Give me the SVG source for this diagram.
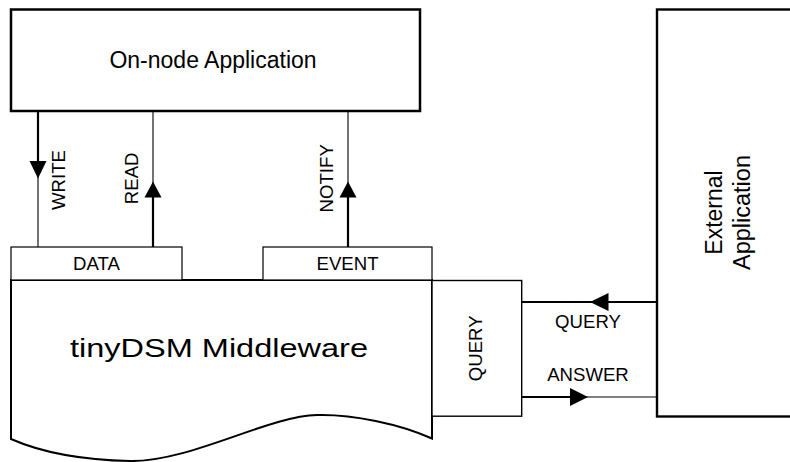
<svg xmlns="http://www.w3.org/2000/svg" width="790" height="462" viewBox="0 0 790 462">
<style>
.box{fill:#fff;stroke:#000}
.t{font-family:"Liberation Sans",Arial,sans-serif;fill:#000}
.lbl{font-size:18.6px;text-anchor:middle}
.thick{stroke:#000;stroke-width:2.2;fill:none}
.thin{stroke:#000;stroke-width:1.1;fill:none}
.ah{fill:#000;stroke:none}
</style>
<rect width="790" height="462" fill="#fff"/>
<g id="connectors">
  <!-- WRITE -->
  <line class="thick" x1="38" y1="111" x2="38" y2="162"/>
  <line class="thin" x1="38" y1="176" x2="38" y2="247"/>
  <polygon class="ah" points="29.5,161 46.5,161 38,178.5"/>
  <!-- READ -->
  <line class="thick" x1="153" y1="247" x2="153" y2="196"/>
  <line class="thin" x1="153" y1="184" x2="153" y2="111"/>
  <polygon class="ah" points="144.5,197.5 161.5,197.5 153,181.5"/>
  <!-- NOTIFY -->
  <line class="thick" x1="348" y1="247" x2="348" y2="196"/>
  <line class="thin" x1="348" y1="184" x2="348" y2="111"/>
  <polygon class="ah" points="339.5,197.5 356.5,197.5 348,181.5"/>
  <!-- QUERY ext -> box -->
  <line class="thick" x1="657" y1="302" x2="607" y2="302"/>
  <line class="thick" x1="592" y1="302" x2="522" y2="302"/>
  <polygon class="ah" points="608.5,293 608.5,311 590,302"/>
  <!-- ANSWER box -> ext -->
  <line class="thick" x1="522" y1="397" x2="571" y2="397"/>
  <line class="thin" x1="586" y1="397" x2="657" y2="397"/>
  <polygon class="ah" points="570,388 570,406 588,397"/>
</g>
<g id="onnode-app">
  <rect class="box" x="11" y="9.5" width="409" height="101.5" stroke-width="2.5"/>
  <text class="t" x="213" y="67.5" font-size="23" text-anchor="middle">On-node Application</text>
</g>
<g id="external-app">
  <rect class="box" x="657" y="9.5" width="200" height="407" stroke-width="2.4"/>
  <text class="t" transform="translate(722,212.5) rotate(-90)" font-size="23" text-anchor="middle">External</text>
  <text class="t" transform="translate(750,212.5) rotate(-90)" font-size="23.5" text-anchor="middle">Application</text>
</g>
<g id="middleware">
  <path class="box" stroke-width="2" d="M11,280 L432,280 L432,438.5 C400,424 352,414 317,415 C268,416 190,462 130,461 C85,460 45,454 11,439 Z"/>
  <text class="t" x="70" y="357" font-size="26" textLength="298" lengthAdjust="spacingAndGlyphs">tinyDSM Middleware</text>
</g>
<g id="data">
  <rect class="box" x="11" y="247" width="171" height="33" stroke-width="1.2"/>
  <text class="t lbl" x="96.5" y="270" font-size="19.4">DATA</text>
</g>
<g id="event">
  <rect class="box" x="263" y="247" width="169" height="33" stroke-width="1.2"/>
  <text class="t lbl" x="347.5" y="270">EVENT</text>
</g>
<g id="query-box">
  <rect class="box" x="432" y="280.5" width="89.7" height="135.7" stroke-width="1.4"/>
  <text class="t lbl" transform="translate(481.5,348.3) rotate(-90)">QUERY</text>
</g>
<g id="labels">
  <text class="t lbl" transform="translate(65,180) rotate(-90)">WRITE</text>
  <text class="t lbl" transform="translate(138.3,178.3) rotate(-90)">READ</text>
  <text class="t lbl" transform="translate(333.3,178.3) rotate(-90)">NOTIFY</text>
  <text class="t lbl" x="588" y="328.3">QUERY</text>
  <text class="t lbl" x="588" y="380.7">ANSWER</text>
</g>
</svg>
